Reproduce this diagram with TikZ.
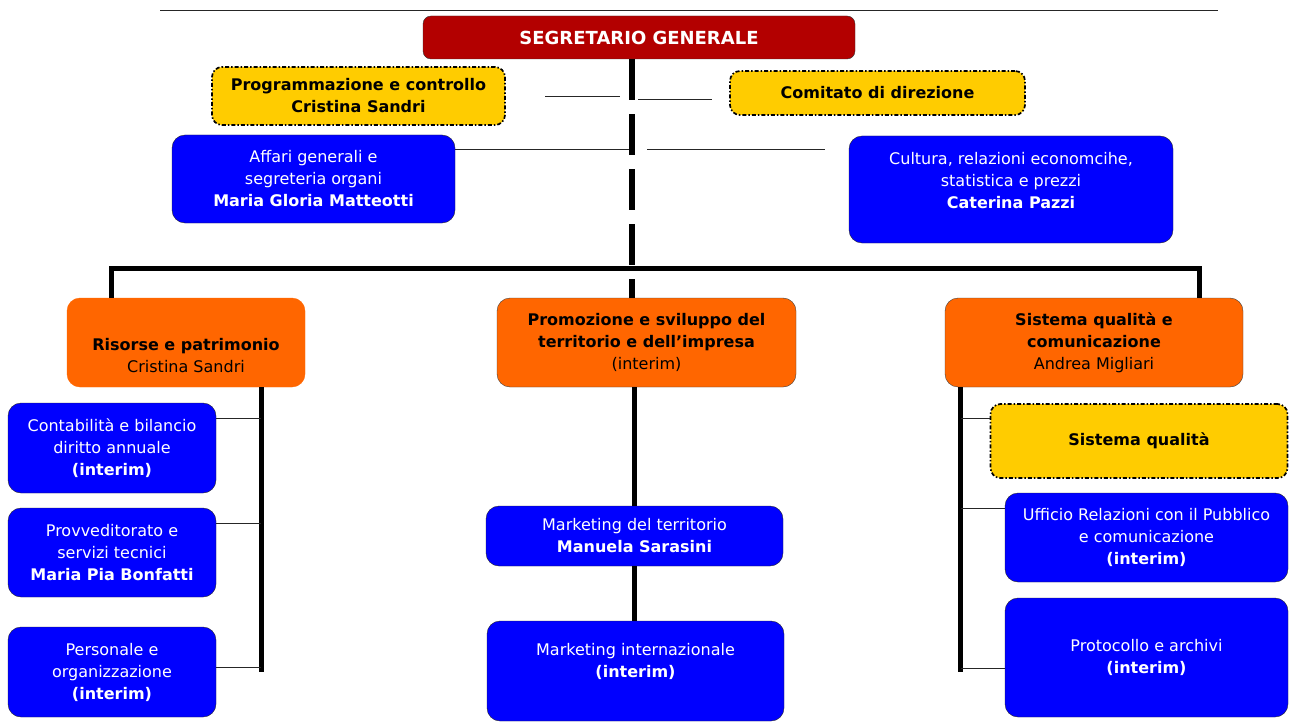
\documentclass[tikz,border=0pt]{standalone}
\usepackage{fontspec}
\setmainfont{DejaVu Sans}
\usetikzlibrary{positioning,calc}
\definecolor{rossoSG}{RGB}{179,0,0}
\definecolor{giallo}{RGB}{255,204,0}
\definecolor{arancio}{RGB}{255,102,0}
\definecolor{blu}{RGB}{0,0,255}

\begin{document}
\begin{tikzpicture}[x=1pt,y=-1pt,every node/.append style={font=\fontsize{16}{22}\selectfont,
                    align=center,inner sep=0pt},
    blubox/.style={fill=blu,draw=black!85,rounded corners=13pt,text=white},
    aranbox/.style={fill=arancio,draw=black!75,rounded corners=13pt},
    gialbox/.style={fill=giallo,draw=black,line width=1.7pt,rounded corners=10pt,
                    dash pattern=on 4pt off 2pt on 1.5pt off 2pt,
                    font=\fontsize{16}{22}\selectfont\bfseries},
    spesso/.style={line width=5pt},
    filo/.style={line width=0.9pt,black!85}]
    \useasboundingbox (0,0) rectangle (1289,722);
    \draw[filo] (160,10) -- (1218,10);

    % vertice
    \node[fill=rossoSG,draw=black!80,rounded corners=8pt,minimum width=432pt,minimum height=43pt,
          text=white,font=\fontsize{18}{22}\selectfont\bfseries] (seg) at (639,37.5) {SEGRETARIO GENERALE};
    \node[gialbox,minimum width=293pt,minimum height=58pt] (prog) at (358.5,96) {Programmazione e controllo\\Cristina Sandri};
    \node[gialbox,minimum width=295pt,minimum height=44pt] (comit) at (877.5,93) {Comitato di direzione};
    \node[blubox,minimum width=283pt,minimum height=88pt] (aff) at (313.5,179)
         {Affari generali e\\segreteria organi\\\textbf{Maria Gloria Matteotti}};
    \node[blubox,minimum width=324pt,minimum height=107pt] (cult) at (1011,189.5)
         {Cultura, relazioni economcihe,\\statistica e prezzi\\\textbf{Caterina Pazzi}\\[-4pt]\mbox{}};

    % aree
    \node[aranbox,draw=arancio,minimum width=238pt,minimum height=89pt] (ris) at (186,342.5)
         {\strut\\\textbf{Risorse e patrimonio}\\Cristina Sandri};
    \node[aranbox,minimum width=299pt,minimum height=89pt] (prom) at (646.5,342.5)
         {\textbf{Promozione e sviluppo del}\\\textbf{territorio e dell’impresa}\\(interim)};
    \node[aranbox,minimum width=298pt,minimum height=89pt] (sist) at (1094,342.5)
         {\textbf{Sistema qualità e}\\\textbf{comunicazione}\\Andrea Migliari};

    % uffici
    \node[blubox,minimum width=208pt,minimum height=90pt] (cont) at (112,448)
         {Contabilità e bilancio\\diritto annuale\\\textbf{(interim)}};
    \node[blubox,minimum width=208pt,minimum height=89pt] (prov) at (112,552.5)
         {Provveditorato e\\servizi tecnici\\\textbf{Maria Pia Bonfatti}};
    \node[blubox,minimum width=208pt,minimum height=90pt] (pers) at (112,672)
         {Personale e\\organizzazione\\\textbf{(interim)}};
    \node[blubox,minimum width=297pt,minimum height=60pt] (mkt) at (634.5,536)
         {Marketing del territorio\\\textbf{Manuela Sarasini}};
    \node[blubox,minimum width=297pt,minimum height=100pt] (mki) at (635.5,671)
         {Marketing internazionale\\\textbf{(interim)}\\[0pt]\mbox{}};
    \node[gialbox,minimum width=297pt,minimum height=74pt] (squal) at (1139,441) {Sistema qualità};
    \node[blubox,minimum width=283pt,minimum height=89pt] (urp) at (1146.5,537.5)
         {Ufficio Relazioni con il Pubblico\\e comunicazione\\\textbf{(interim)}};
    \node[blubox,minimum width=283pt,minimum height=119pt] (prot) at (1146.5,657.5)
         {Protocollo e archivi\\\textbf{(interim)}};

    % collegamenti
    \coordinate (asse) at (631.5,0);
    \coordinate (asse2) at (634,0);
    \coordinate (barL) at (111,268);
    \coordinate (barR) at (1199,268);
    \coordinate (pl1) at (545,96);  \coordinate (pl2) at (620,96);
    \coordinate (pr1) at (638,99);  \coordinate (pr2) at (712,99);
    \coordinate (al) at (630,149.5);
    \coordinate (ar1) at (647,149.5); \coordinate (ar2) at (825,149.5);
    \coordinate (rb1) at (261,418); \coordinate (rb2) at (261,523); \coordinate (rb3) at (261,667);
    \coordinate (rfine) at (261,672);
    \coordinate (sb1) at (960.5,418); \coordinate (sb2) at (960.5,508); \coordinate (sb3) at (960.5,668);
    \coordinate (sfine) at (960.5,672);

    \draw[filo] (pl1) -- (pl2);
    \draw[filo] (pr1) -- (pr2);
    \draw[filo] (aff.east |- al) -- (al);
    \draw[filo] (ar1) -- (ar2);
    \draw[spesso] (ris.north -| barL) -- (barL) -- (barR) -- (sist.north -| barR);
    \draw[line width=6pt,dash pattern=on 41pt off 14pt] (seg.south -| asse) -- (prom.north -| asse);

    \draw[spesso] (ris.south -| rb1) -- (rfine);
    \draw[filo] (cont.east |- rb1) -- (rb1);
    \draw[filo] (prov.east |- rb2) -- (rb2);
    \draw[filo] (pers.east |- rb3) -- (rb3);

    \draw[spesso] (prom.south -| asse2) -- (mkt.north -| asse2);
    \draw[spesso] (mkt.south -| asse2) -- (mki.north -| asse2);

    \draw[spesso] (sist.south -| sb1) -- (sfine);
    \draw[filo] (squal.west |- sb1) -- (sb1);
    \draw[filo] (urp.west |- sb2) -- (sb2);
    \draw[filo] (prot.west |- sb3) -- (sb3);
\end{tikzpicture}
\end{document}
